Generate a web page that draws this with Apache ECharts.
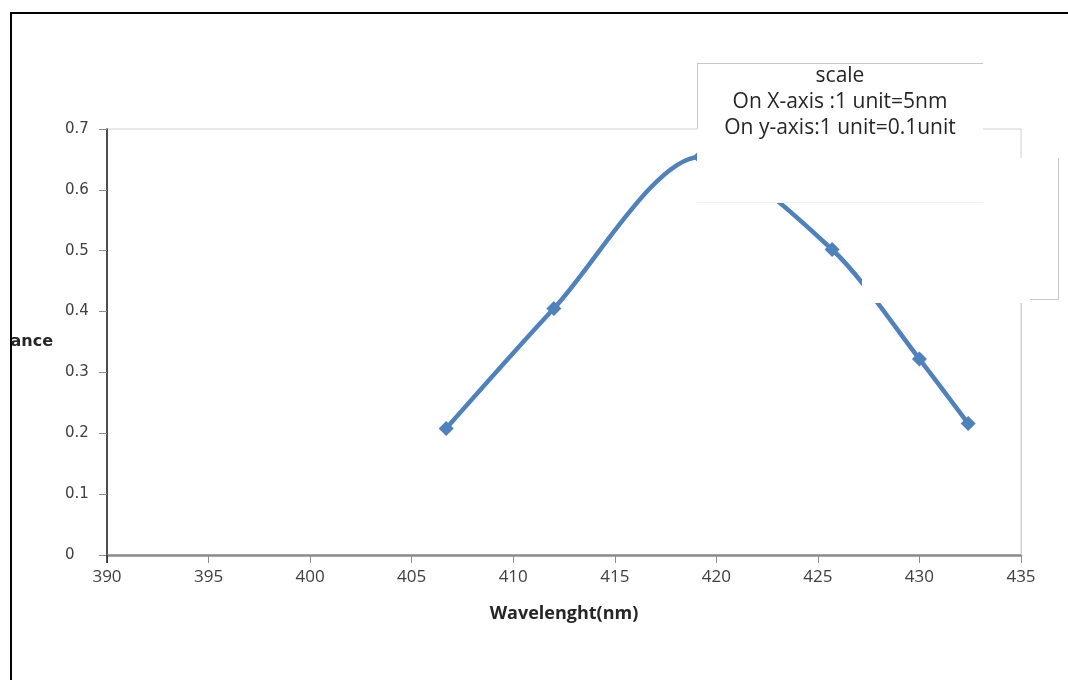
<!DOCTYPE html>
<html>
<head>
<meta charset="utf-8">
<script src="https://cdn.jsdelivr.net/npm/echarts@6/dist/echarts.min.js"></script>
<style>
  html, body { margin: 0; padding: 0; background: #fff; overflow: hidden; }
  #frame { position: absolute; left: 10px; top: 12px; width: 1100px; height: 700px;
           border-left: 2px solid #000; border-top: 2px solid #000; overflow: hidden; }
  #chart { position: absolute; left: -12px; top: -14px; width: 1068px; height: 680px; }
</style>
</head>
<body>
<div id="frame"><div id="chart"></div></div>
<script>
// Data
const wavelengths = [406.7, 412.0, 419.2, 425.7, 430.0, 432.4];
const absorbance  = [0.208, 0.405, 0.654, 0.502, 0.322, 0.216];
const xTicks = [390, 395, 400, 405, 410, 415, 420, 425, 430, 435];
const yTicks = [0, 0.1, 0.2, 0.3, 0.4, 0.5, 0.6, 0.7];
const scaleLines = ['scale', 'On X-axis :1 unit=5nm', 'On y-axis:1 unit=0.1unit'];

const points = wavelengths.map((w, i) => [w, absorbance[i]]);
const chart = echarts.init(document.getElementById('chart'), null, { renderer: 'canvas' });

const calibri = "'Open Sans', 'Noto Sans', sans-serif";

chart.setOption({
  animation: false,
  backgroundColor: '#ffffff',
  grid: { left: 107, top: 129, right: 47, bottom: 125, show: true, containLabel: false,
          outerBoundsMode: 'none',
          borderColor: '#d0d0d0', borderWidth: 1, backgroundColor: 'transparent' },
  xAxis: {
    type: 'value', min: xTicks[0], max: xTicks[xTicks.length - 1], interval: 5,
    name: 'Wavelenght(nm)', nameLocation: 'middle', nameGap: 50,
    nameTextStyle: { fontFamily: calibri, fontWeight: 'bold', fontSize: 18, color: '#262626' },
    axisLine: { show: true, onZero: false, lineStyle: { color: '#8c8c8c', width: 2.5 } },
    axisTick: { show: true, inside: false, length: 8, lineStyle: { color: '#8c8c8c', width: 1 } },
    axisLabel: { fontFamily: calibri, fontSize: 17, color: '#404040', margin: 14 },
    splitLine: { show: false }
  },
  yAxis: {
    type: 'value', min: yTicks[0], max: yTicks[yTicks.length - 1], interval: 0.1,
    name: 'Absorbance', nameLocation: 'middle', nameRotate: 0, nameGap: 54,
    nameTextStyle: { fontFamily: 'DejaVu Sans', fontWeight: 'bold', fontSize: 16, color: '#262626' },
    axisLine: { show: true, onZero: false, lineStyle: { color: '#1a1a1a', width: 1.5 } },
    axisTick: { show: true, inside: false, length: 8, lineStyle: { color: '#8c8c8c', width: 1 } },
    axisLabel: { fontFamily: 'DejaVu Sans', fontSize: 15, color: '#404040', margin: 42, align: 'left',
                 formatter: v => (Math.round(v * 10) / 10).toString() },
    splitLine: { show: false }
  },
  series: [{
    type: 'line', data: points, smooth: 0.28,
    symbol: 'diamond', symbolSize: 15,
    lineStyle: { color: '#4f81bd', width: 4.5 },
    itemStyle: { color: '#4f81bd' },
    z: 2
  }],
  graphic: [
    // white text box with partial grey frame (covers the curve peak)
    { type: 'rect', z: 100, shape: { x: 697, y: 63, width: 286, height: 139 }, style: { fill: '#ffffff' } },
    { type: 'line', z: 101, shape: { x1: 697, y1: 63.5, x2: 983, y2: 63.5 }, style: { stroke: '#c8c8c8', lineWidth: 1 } },
    { type: 'line', z: 101, shape: { x1: 697.5, y1: 63, x2: 697.5, y2: 129 }, style: { stroke: '#c8c8c8', lineWidth: 1 } },
    { type: 'line', z: 101, shape: { x1: 697, y1: 202.5, x2: 983, y2: 202.5 }, style: { stroke: '#f2f2f2', lineWidth: 1 } },
    // second white patch (hidden legend area)
    { type: 'rect', z: 100, shape: { x: 862, y: 158, width: 196, height: 145 }, style: { fill: '#ffffff' } },
    { type: 'line', z: 101, shape: { x1: 1058.5, y1: 158, x2: 1058.5, y2: 299 }, style: { stroke: '#c8c8c8', lineWidth: 1 } },
    { type: 'line', z: 101, shape: { x1: 1030, y1: 299.5, x2: 1059, y2: 299.5 }, style: { stroke: '#c8c8c8', lineWidth: 1 } },
    { type: 'line', z: 101, shape: { x1: 1021.5, y1: 303, x2: 1021.5, y2: 555 }, style: { stroke: '#d0d0d0', lineWidth: 1 } },
    // y axis line continues slightly below the x axis
    { type: 'line', z: 101, shape: { x1: 107, y1: 555, x2: 107, y2: 563 }, style: { stroke: '#1a1a1a', lineWidth: 1.5 } },
    { type: 'text', z: 102, style: { x: 840, y: 76, text: scaleLines[0], fontFamily: calibri, fontSize: 21, fill: '#262626', align: 'center', verticalAlign: 'middle' } },
    { type: 'text', z: 102, style: { x: 840, y: 102, text: scaleLines[1], fontFamily: calibri, fontSize: 21, fill: '#262626', align: 'center', verticalAlign: 'middle' } },
    { type: 'text', z: 102, style: { x: 840, y: 128, text: scaleLines[2], fontFamily: calibri, fontSize: 21, fill: '#262626', align: 'center', verticalAlign: 'middle' } }
  ]
});
</script>
</body>
</html>
